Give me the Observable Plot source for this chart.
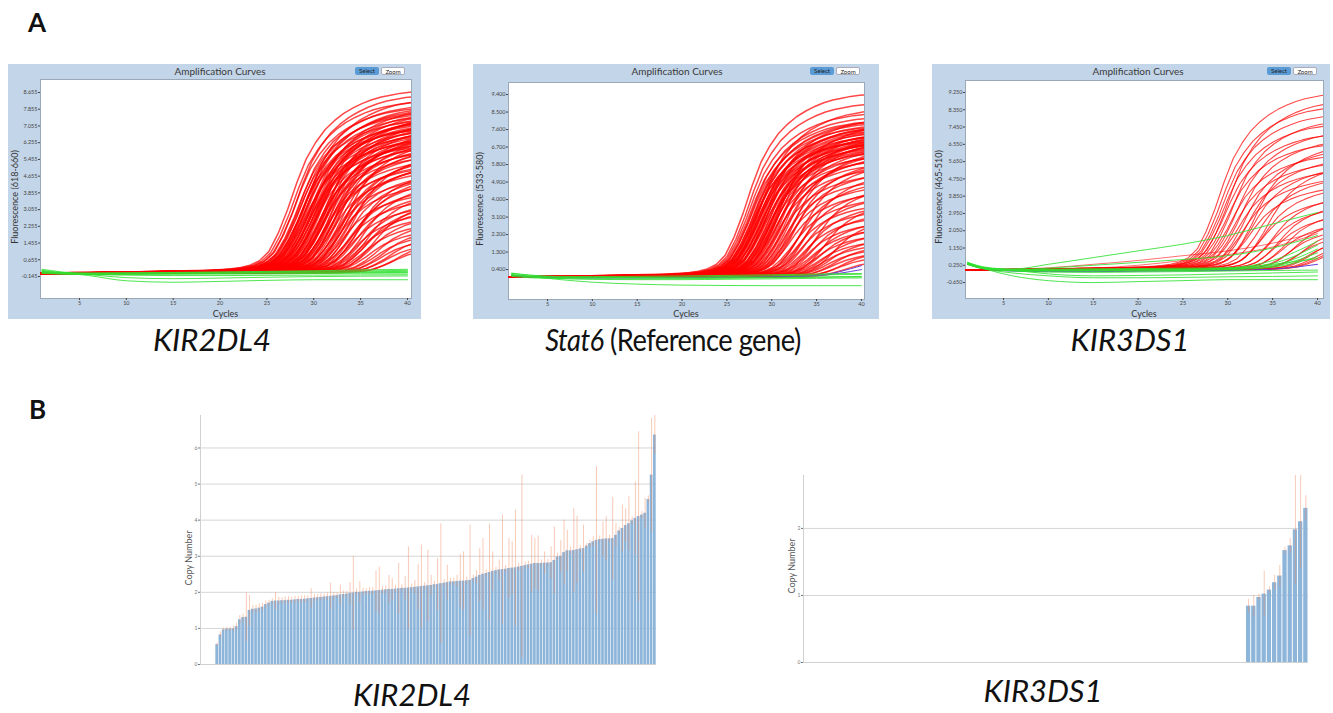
<!DOCTYPE html>
<html><head><meta charset="utf-8">
<script src="https://cdn.jsdelivr.net/npm/d3@7"></script>
<script src="https://cdn.jsdelivr.net/npm/@observablehq/plot@0.6"></script>
<style>
body{margin:0;background:#fff;font-family:Lato,"Open Sans",sans-serif;}
#root{position:relative;width:1333px;height:713px;overflow:hidden;background:#fff;}
.panel{position:absolute;background:#c3d5e8;}
.panel svg{position:absolute;left:0;top:0;}
.title{position:absolute;font-size:10px;color:#3a3a3a;transform:translateX(-50%);white-space:nowrap;line-height:10px;}
.btn{position:absolute;font-size:6px;line-height:8px;height:8px;width:24px;text-align:center;border-radius:2px;color:#222;}
.sel{background:#5b9bd5;}
.zm{background:#fff;border:1px solid #aab;box-sizing:border-box;}
.cap{position:absolute;font-size:31px;color:#111;white-space:nowrap;transform:translate(-50%,-50%);line-height:1;}
.letter{position:absolute;font-size:26px;font-weight:bold;line-height:1;color:#111;}
.ylab{position:absolute;white-space:nowrap;transform:translate(-50%,-50%) rotate(-90deg);line-height:1;}
.xlab{position:absolute;white-space:nowrap;transform:translate(-50%,-50%);line-height:1;}
</style></head><body><div id="root"></div>
<script>
// ---------- DATA ----------
const cycleTicks = [5, 10, 15, 20, 25, 30, 35, 40];
const knotCycles = [1, 3, 6, 10, 15, 20, 25, 30, 35, 40];

// typical amplification profile (fraction of plateau), offsets -40..14 cycles from its Ct
const profileStart = -40;
const riseProfile = [0,0,0,0,
  0,0,0,0,0,0.001,0.001,0.002,0.002,0.003,
  0.003,0.004,0.004,0.005,0.005,0.006,0.006,0.007,0.008,0.009,
  0.010,0.011,0.012,0.013,0.014,0.015,0.016,0.017,
  0.019,0.022,0.026,0.033,0.046,0.07,0.12,0.22,
  0.35,0.5,0.63,0.72,0.79,0.84,0.88,0.91,0.935,0.955,0.97,0.98,0.99,0.996,1.0];

// KIR2DL4 amplification: [Ct, plateau]
const kir2dl4Red = [[27.2,8.7],[27.4,8.2],[27.6,7.9],[27.8,8.5],[27.9,7.6],[28.0,7.3],[28.1,8.0],[28.2,7.7],[28.3,7.1],[28.4,7.5],
 [28.5,6.9],[28.6,7.8],[28.7,7.2],[28.8,6.6],[28.9,7.4],[29.0,6.8],[29.1,7.0],[29.2,6.4],[29.3,7.6],[29.4,6.2],
 [29.5,7.1],[29.6,6.7],[29.7,6.0],[29.8,7.3],[29.9,6.5],[30.0,5.8],[30.1,6.9],[30.2,7.4],[30.3,6.1],[30.4,5.6],
 [30.5,6.8],[30.6,7.0],[30.7,5.9],[30.8,6.4],[30.9,5.4],[31.0,6.6],[31.1,7.2],[31.2,5.2],[31.3,6.0],[31.4,6.9],
 [31.5,4.9],[31.6,5.7],[31.8,6.3],[31.9,4.6],[32.0,6.8],[32.1,5.1],[32.2,4.3],[32.4,6.0],[32.5,5.5],[32.6,3.9],
 [32.8,4.8],[33.0,6.4],[33.1,3.6],[33.2,5.3],[33.4,4.1],[33.5,3.3],[33.7,5.8],[33.8,4.5],[34.0,3.0],[34.1,3.9],
 [34.3,5.0],[34.4,2.8],[34.6,3.5],[34.8,4.4],[35.0,2.5],[35.1,3.2],[35.3,4.0],[35.5,2.2],[35.7,2.9],[36.0,3.6],
 [36.2,2.0],[36.4,2.6],[36.7,1.8],[37.0,2.3],[37.3,1.6],[37.6,2.0],[38.0,1.4],[38.4,1.7],[28.8,8.3],[28.6,6.3],
 [28.2,6.9],[28.9,7.9],[29.4,7.3],[29.8,6.6],[30.1,7.6],[30.5,6.3],[31.0,7.5],[31.6,6.6],[32.3,6.5],[32.9,5.6],
 [29.1,6.1],[29.6,7.8],[30.3,7.1],[30.8,5.1],[31.3,6.5],[31.9,5.9],[32.7,5.2],[33.3,4.7],[34.2,4.7],[35.2,3.4]];
const kir2dl4Green = [
 [0.15,0.05,-0.1,-0.35,-0.42,-0.38,-0.33,-0.3,-0.3,-0.3],
 [0.2,0.08,-0.05,-0.2,-0.25,-0.22,-0.18,-0.15,-0.13,-0.12],
 [0.05,0.0,-0.02,-0.02,-0.01,0.0,0.02,0.03,0.04,0.05],
 [0.08,0.02,0.0,0.01,0.02,0.03,0.05,0.06,0.08,0.1],
 [0.0,-0.03,-0.05,-0.05,-0.04,-0.03,-0.02,0.0,0.01,0.02],
 [0.1,0.03,0.01,0.02,0.04,0.06,0.08,0.1,0.12,0.15],
 [0.03,-0.02,-0.05,-0.08,-0.1,-0.1,-0.09,-0.08,-0.07,-0.06],
 [0.12,0.04,0.02,0.03,0.05,0.07,0.1,0.13,0.17,0.2]];
const kir2dl4YTicks = [-0.145,0.655,1.455,2.255,3.055,3.855,4.655,5.455,6.255,7.055,7.855,8.655];

// Stat6 amplification
const stat6Red = [[26.8,9.4],[27.0,8.9],[27.1,8.4],[27.2,8.0],[27.3,7.7],[27.4,8.2],[27.5,7.5],[27.6,7.9],[27.7,7.2],[27.8,7.6],
 [27.9,7.0],[28.0,7.8],[28.0,6.8],[28.1,7.4],[28.2,7.1],[28.3,6.6],[28.4,7.7],[28.5,6.9],[28.6,7.3],[28.7,6.4],
 [28.8,7.0],[28.9,6.7],[29.0,7.5],[29.1,6.2],[29.2,6.9],[29.3,7.2],[29.4,6.5],[29.5,6.0],[29.6,7.0],[29.7,6.8],
 [29.8,5.8],[29.9,6.6],[30.0,7.3],[30.1,6.3],[30.2,5.6],[30.4,6.9],[30.5,6.1],[30.6,5.3],[30.8,6.6],[31.0,5.0],
 [31.1,6.2],[31.3,4.7],[31.5,5.8],[31.6,4.4],[31.8,5.4],[32.0,4.1],[32.2,6.0],[32.4,3.8],[32.6,5.0],[32.8,3.5],
 [33.0,4.6],[33.2,3.2],[33.4,4.2],[33.6,2.9],[33.8,3.8],[34.0,2.6],[34.2,3.4],[34.4,2.3],[34.6,3.0],[34.8,2.0],
 [35.0,2.7],[35.2,1.8],[35.5,2.4],[35.8,1.6],[36.0,2.1],[36.3,1.4],[36.6,1.8],[37.0,1.2],[37.4,1.5],[37.8,1.0],
 [28.3,8.6],[29.0,8.1],[30.3,7.8],[31.2,7.0],[32.0,6.6],[33.0,5.9],[33.5,5.4],[34.5,4.8],[35.5,4.0],[36.5,3.2],
 [27.5,7.0],[27.8,8.0],[28.2,7.5],[28.6,7.7],[28.9,7.3],[29.3,6.6],[29.7,7.4],[30.1,7.0],[30.7,7.2],[31.4,6.4]];
const stat6Green = [
 [0.2,0.1,0.02,0.0,-0.02,-0.03,-0.02,0.0,0.02,0.05],
 [0.15,0.05,-0.1,-0.25,-0.35,-0.4,-0.42,-0.43,-0.43,-0.43],
 [0.1,0.02,-0.05,-0.1,-0.12,-0.12,-0.1,-0.08,-0.05,-0.03],
 [0.22,0.12,0.05,0.04,0.05,0.07,0.1,0.13,0.17,0.2],
 [0.05,-0.02,-0.06,-0.08,-0.08,-0.07,-0.05,-0.03,0.0,0.02],
 [0.12,0.05,0.0,-0.02,-0.01,0.01,0.04,0.08,0.12,0.16]];
const stat6Purple = [
 [0.12,0.04,0.0,-0.02,-0.02,-0.01,0.0,0.02,0.1,0.6],
 [0.1,0.03,-0.01,-0.03,-0.03,-0.02,0.0,0.02,0.08,0.4]];
const stat6YTicks = [0.4,1.3,2.2,3.1,4.0,4.9,5.8,6.7,7.6,8.5,9.4];

// KIR3DS1 amplification
const kir3ds1Red = [[28.6,9.2],[28.8,8.5],[29.0,8.1],[29.1,7.6],[29.3,7.1],[29.5,6.6],[29.7,8.8],[29.9,6.0],[30.1,7.8],[30.3,5.6],
 [30.5,7.2],[30.7,5.2],[31.0,6.8],[31.2,4.8],[31.5,6.3],[31.8,5.8],[32.0,4.4],[32.3,5.4],[32.6,6.6],[33.0,4.9],
 [33.3,3.8],[33.6,4.4],[34.0,5.6],[34.3,3.4],[34.6,4.0],[35.0,3.0],[35.3,3.6],[35.7,2.6],[36.0,3.2],[36.5,2.3],
 [37.0,2.8],[37.5,2.0],[38.0,2.4],[38.5,1.8],[39.0,2.0],[39.3,1.6],[39.6,1.5],[39.8,1.4]];
const kir3ds1RedDrift = [
 [0.3,0.1,0.05,0.12,0.3,0.5,0.75,1.0,1.4,2.0],
 [0.3,0.08,0.0,0.02,0.1,0.25,0.5,0.8,1.2,1.9]];
const kir3ds1Green = [
 [0.4,0.15,0.05,0.3,0.65,1.0,1.35,1.8,2.4,3.0],
 [0.3,0.1,0.0,0.1,0.25,0.4,0.55,0.75,1.15,1.8],
 [0.35,0.05,-0.3,-0.55,-0.65,-0.6,-0.55,-0.5,-0.5,-0.5],
 [0.3,0.05,-0.15,-0.3,-0.4,-0.4,-0.38,-0.35,-0.33,-0.3],
 [0.4,0.1,-0.05,-0.1,-0.12,-0.1,-0.08,-0.05,-0.02,0.0],
 [0.35,0.1,0.02,0.0,0.0,0.0,0.02,0.05,0.2,0.9],
 [0.3,0.08,0.0,-0.02,-0.02,0.0,0.02,0.06,0.25,1.1],
 [0.35,0.1,0.02,0.01,0.02,0.03,0.05,0.1,0.35,1.3],
 [0.3,0.05,-0.02,-0.05,-0.05,-0.04,-0.02,0.02,0.15,0.7],
 [0.32,0.08,0.0,0.0,0.01,0.02,0.04,0.08,0.3,0.6],
 [0.35,0.1,0.0,-0.2,-0.3,-0.28,-0.25,-0.2,-0.15,-0.1],
 [0.3,0.1,0.05,0.05,0.07,0.08,0.1,0.12,0.5,1.5]];
const kir3ds1Blue = [[0.3,0.05,-0.05,-0.08,-0.08,-0.06,-0.04,-0.02,0.05,0.3]];
const kir3ds1YTicks = [-0.65,0.25,1.15,2.05,2.95,3.85,4.75,5.65,6.55,7.45,8.35,9.25];

// Copy numbers (B)
const copyTicksKir2dl4 = [0, 1, 2, 3, 4, 5, 6];
const copyTicksKir3ds1 = [0, 1, 2];
const kir2dl4Copy = [0.55,0.82,0.96,0.98,0.98,0.99,1.05,1.24,1.30,1.31,1.50,1.53,1.54,1.56,1.59,1.66,1.70,1.75,1.76,
 1.76,1.77,1.77,1.78,1.78,1.79,1.80,1.80,1.81,1.82,1.83,1.84,1.85,1.86,1.87,1.88,1.89,1.90,1.91,1.93,1.94,1.95,1.97,1.98,
 2.00,2.00,2.01,2.02,2.03,2.03,2.04,2.05,2.06,2.07,
 2.08,2.08,2.09,2.10,2.11,2.11,2.12,2.13,2.14,2.15,
 2.16,2.17,2.18,2.19,2.21,2.22,2.24,2.25,2.27,2.29,
 2.29,2.30,2.31,2.31,2.32,2.33,
 2.38,2.42,2.47,2.50,2.52,2.55,2.58,
 2.60,2.62,2.63,2.64,2.66,2.67,2.68,2.70,
 2.72,2.74,2.76,2.78,2.80,2.80,2.80,2.81,2.81,2.82,
 2.88,2.98,3.00,3.10,3.15,
 3.15,3.16,3.18,3.20,3.21,3.28,3.35,
 3.40,3.44,3.46,3.47,3.48,3.48,3.49,
 3.58,3.70,3.77,3.85,3.90,3.98,4.05,4.10,4.14,4.19,4.57,5.25,6.36];
const kir2dl4Err = [0.05,0.08,0.05,0.05,0.05,0.08,0.1,0.12,0.1,0.67,0.42,0.1,0.1,0.12,0.1,0.1,0.08,0.08,0.24,
 0.1,0.08,0.1,0.1,0.08,0.1,0.08,0.1,0.1,0.08,0.27,0.1,0.08,0.1,0.08,0.1,0.37,0.1,0.08,0.27,0.1,0.08,0.3,1.02,
 0.1,0.3,0.1,0.08,0.1,0.1,0.56,0.65,0.1,0.1,
 0.39,0.3,0.1,0.7,0.1,0.32,1.14,0.1,0.19,0.63,
 1.15,0.1,0.99,0.28,0.1,0.72,1.66,0.1,0.48,0.1,
 0.1,0.17,0.74,0.81,0.1,1.53,
 0.1,0.18,0.74,0.99,0.1,1.34,0.54,
 0.1,0.28,1.51,0.1,0.83,0.73,1.6,0.1,
 2.53,0.1,0.1,0.8,0.69,0.76,0.1,0.31,0.1,0.44,
 0.93,0.1,0.44,0.9,0.57,
 0.1,1.16,0.93,0.1,0.65,0.07,0.1,
 0.14,2.04,0.1,0.48,0.61,0.1,1.14,
 0.33,0.1,0.65,0.47,0.75,0.1,1.01,2.35,0.1,0.41,0.1,1.57,0.54];
const kir3ds1Copy = [0,0,0,0,0,0,0,0,0,0, 0,0,0,0,0,0,0,0,0,0, 0,0,0,0,0,0,0,0,0,0,
 0,0,0,0,0,0,0,0,0,0, 0,0,0,0,0,0,0,0,0,0, 0,0,0,0,0,0,0,0,0,0,
 0,0,0,0,0,0,0,0,0,0, 0,0,0,0,0,0,0,0,0,0, 0,0,0,0,0,
 0.84,0.84,0.97,1.02,1.08,1.19,1.29,1.67,1.74,1.98,2.10,2.30];
const kir3ds1Err = [0,0,0,0,0,0,0,0,0,0, 0,0,0,0,0,0,0,0,0,0, 0,0,0,0,0,0,0,0,0,0,
 0,0,0,0,0,0,0,0,0,0, 0,0,0,0,0,0,0,0,0,0, 0,0,0,0,0,0,0,0,0,0,
 0,0,0,0,0,0,0,0,0,0, 0,0,0,0,0,0,0,0,0,0, 0,0,0,0,0,
 0.10,0.16,0.05,0.34,0.05,0.11,0.16,0.05,0.11,0.82,0.70,0.19];

// ---------- LAYOUT ----------
const root = document.getElementById("root");
function addDiv(cls, text, css, parent = root) {
  const d = document.createElement("div");
  d.className = cls; d.textContent = text;
  Object.assign(d.style, css); parent.appendChild(d); return d;
}

function ampPanel(o) {
  const p = document.createElement("div");
  p.className = "panel";
  Object.assign(p.style, {left: o.left + "px", top: o.top + "px", width: o.w + "px", height: o.h + "px"});
  root.appendChild(p);
  const redRows = [];
  o.red.forEach(([ct, pl], id) => riseProfile.forEach((f, k) =>
    redRows.push({id, x: ct + profileStart + k, y: o.base + pl * f})));
  const knotRows = (arr) => arr.flatMap((vals, id) => vals.map((v, k) => ({id, x: knotCycles[k], y: v})));
  const marks = [
    Plot.frame({fill: "white", stroke: "#9aa8b8"}),
    Plot.line(knotRows(o.redDrift || []), {x: "x", y: "y", z: "id", stroke: "#ff0000", strokeWidth: 0.8, strokeOpacity: 0.7, curve: "monotone-x", clip: true}),
    Plot.line(redRows, {x: "x", y: "y", z: "id", stroke: "#ff0000", strokeWidth: o.redWidth, strokeOpacity: 0.72, clip: true}),
    Plot.line(knotRows(o.purple || []), {x: "x", y: "y", z: "id", stroke: "#6a3fd6", strokeWidth: 1, curve: "monotone-x", clip: true}),
    Plot.line(knotRows(o.green), {x: "x", y: "y", z: "id", stroke: "#2fe02f", strokeWidth: 1, strokeOpacity: 0.85, curve: "monotone-x", clip: true}),
    Plot.axisX({ticks: cycleTicks, tickSize: 2, fontSize: 5.5, label: null, tickPadding: 1}),
    Plot.axisY({ticks: o.yTicks, tickFormat: d => d.toFixed(3), tickSize: 2, fontSize: 5.5, label: null, tickPadding: 1})
  ];
  const svg = Plot.plot({
    width: o.w, height: o.h,
    marginLeft: o.ml, marginRight: o.mr, marginTop: o.mt, marginBottom: o.mb,
    style: {background: "transparent", fontFamily: "Lato", color: "#444", overflow: "visible"},
    x: {domain: o.xd}, y: {domain: o.yd},
    marks
  });
  p.appendChild(svg);
  addDiv("title", "Amplification Curves", {left: o.titleX + "px", top: "2px"}, p);
  addDiv("btn sel", "Select", {left: o.btnX + "px", top: "3px"}, p);
  addDiv("btn zm", "Zoom", {left: (o.btnX + 26) + "px", top: "3px"}, p);
  addDiv("xlab", "Cycles", {left: (o.ml + (o.w - o.ml - o.mr) / 2) + "px", top: (o.h - 6) + "px", fontSize: "9px", color: "#333"}, p);
  addDiv("ylab", o.ylabel, {left: "6px", top: (o.mt + (o.h - o.mt - o.mb) / 2 + 8) + "px", fontSize: "9px", color: "#333"}, p);
}

ampPanel({left: 8, top: 64, w: 413, h: 255, ml: 32, mr: 10, mt: 15, mb: 21,
  xd: [0.84, 40.43], yd: [-1.197, 9.277], yTicks: kir2dl4YTicks, base: 0.0, redWidth: 1.5,
  red: kir2dl4Red, green: kir2dl4Green, ylabel: "Fluorescence (618-660)", titleX: 212, btnX: 347});
ampPanel({left: 473, top: 64, w: 406, h: 255, ml: 35, mr: 15, mt: 18, mb: 20,
  xd: [0.65, 40.34], yd: [-1.14, 10.02], yTicks: stat6YTicks, base: 0.0, redWidth: 1.5,
  red: stat6Red, green: stat6Green, purple: stat6Purple, ylabel: "Fluorescence (533-580)", titleX: 204, btnX: 337});
ampPanel({left: 932, top: 64, w: 398, h: 255, ml: 33, mr: 7, mt: 16, mb: 21,
  xd: [0.76, 40.67], yd: [-1.48, 9.875], yTicks: kir3ds1YTicks, base: 0.0, redWidth: 1.1,
  red: kir3ds1Red, redDrift: kir3ds1RedDrift, green: kir3ds1Green, purple: kir3ds1Blue, ylabel: "Fluorescence (465-510)", titleX: 206, btnX: 335});

// letters & captions
addDiv("letter", "A", {left: "28px", top: "9px"});
addDiv("letter", "B", {left: "29px", top: "396px"});
const c1 = addDiv("cap", "", {left: "212px", top: "339px"}); c1.innerHTML = "<i>KIR2DL4</i>";
const c2 = addDiv("cap", "", {left: "673px", top: "339px", letterSpacing: "-0.6px", transform: "translate(-50%,-50%) scaleX(0.88)"}); c2.innerHTML = "<i>Stat6</i> (Reference gene)";
const c3 = addDiv("cap", "", {left: "1130px", top: "339px"}); c3.innerHTML = "<i>KIR3DS1</i>";
const c4 = addDiv("cap", "", {left: "412px", top: "694px"}); c4.innerHTML = "<i>KIR2DL4</i>";
const c5 = addDiv("cap", "", {left: "1043px", top: "690px"}); c5.innerHTML = "<i>KIR3DS1</i>";

// copy number bar charts
function copyChart(o) {
  const rows = o.values.map((v, i) => ({i, v, e: o.err[i]}));
  const svg = Plot.plot({
    width: o.w, height: o.h,
    marginLeft: o.ml, marginRight: o.mr, marginTop: o.mt, marginBottom: o.mb,
    style: {background: "transparent", fontFamily: "Lato", color: "#777", overflow: "visible"},
    x: {type: "band", domain: rows.map(d => d.i), paddingInner: 0.18, paddingOuter: 0.1, insetLeft: o.insetLeft, round: false, axis: null},
    y: {domain: o.yd},
    marks: [
      Plot.gridY(o.grid, {stroke: "#d6d6d6", strokeOpacity: 1}),
      Plot.ruleY([0], {stroke: "#d0d0d0"}),
      Plot.frame({anchor: "left", stroke: "#d0d0d0"}),
      Plot.barY(rows.filter(d => d.v > 0), {x: "i", y: "v", fill: "#8db5da"}),
      Plot.ruleX(rows.filter(d => d.v > 0), {x: "i", y1: d => d.v - d.e, y2: d => d.v + d.e, stroke: "#f08a60", strokeOpacity: 0.45, clip: true}),
      Plot.axisY({ticks: o.ticks, tickFormat: d => String(d), tickSize: 2, fontSize: 5, label: null, tickPadding: 1})
    ]
  });
  svg.style.position = "absolute"; svg.style.left = o.left + "px"; svg.style.top = o.top + "px";
  root.appendChild(svg);
  addDiv("ylab", "Copy Number", {left: o.labX + "px", top: o.labY + "px", fontSize: "9px", color: "#555"});
}
copyChart({left: 170, top: 405, w: 500, h: 275, ml: 30, mr: 14, mt: 10, mb: 16, insetLeft: 15,
  values: kir2dl4Copy, err: kir2dl4Err, yd: [0, 6.9], grid: [1, 2, 3, 4, 5, 6], ticks: copyTicksKir2dl4, labX: 188, labY: 558});
copyChart({left: 770, top: 465, w: 560, h: 215, ml: 33, mr: 22, mt: 10, mb: 18, insetLeft: 0,
  values: kir3ds1Copy, err: kir3ds1Err, yd: [0, 2.79], grid: [1, 2], ticks: copyTicksKir3ds1, labX: 791, labY: 566});
</script></body></html>
